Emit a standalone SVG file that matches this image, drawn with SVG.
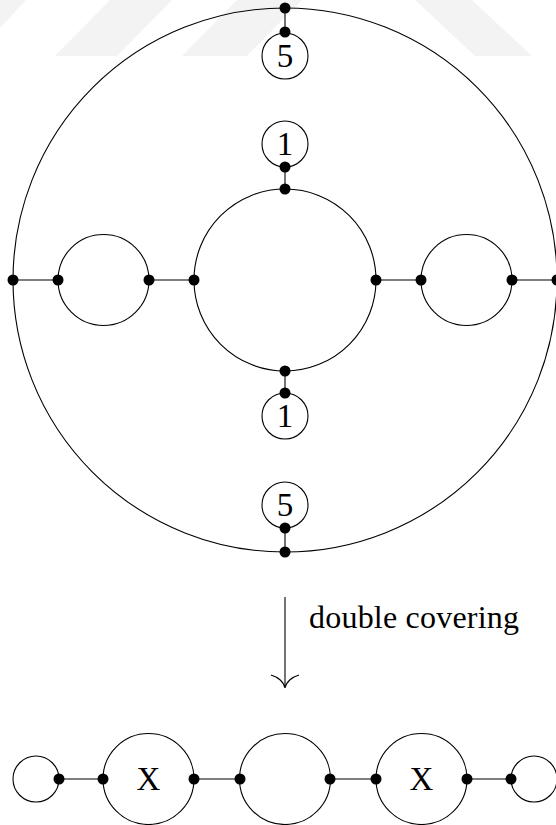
<svg xmlns="http://www.w3.org/2000/svg" width="556" height="825" viewBox="0 0 556 825">
<style>
.c{fill:none;stroke:#000;stroke-width:1.1}
.e{stroke:#000;stroke-width:1.1;fill:none}
.d{fill:#000}
.t{font-family:"Liberation Serif","DejaVu Serif",serif;font-size:33px;fill:#000}
.w{fill:#f3f3f3}
</style>
<rect width="556" height="825" fill="#fff"/>
<g id="watermark">
<polygon class="w" points="0,0 26,0 0,28"/>
<polygon class="w" points="110,0 172,0 117,56 55,56"/>
<polygon class="w" points="237,0 302,0 247,56 182,56"/>
<polygon class="w" points="415,0 472,0 532,56 475,56"/>
</g>
<g id="connectors">
<line class="e" x1="285" y1="8" x2="285" y2="32"/>
<line class="e" x1="285" y1="167" x2="285" y2="189"/>
<line class="e" x1="285" y1="371" x2="285" y2="393"/>
<line class="e" x1="285" y1="528" x2="285" y2="552"/>
<line class="e" x1="13" y1="280" x2="58" y2="280"/>
<line class="e" x1="149" y1="280" x2="194" y2="280"/>
<line class="e" x1="376" y1="280" x2="421" y2="280"/>
<line class="e" x1="512" y1="280" x2="557" y2="280"/>
<line class="e" x1="59" y1="779" x2="103" y2="779"/>
<line class="e" x1="194" y1="779" x2="240" y2="779"/>
<line class="e" x1="330" y1="779" x2="376" y2="779"/>
<line class="e" x1="467" y1="779" x2="512" y2="779"/>
<line class="e" x1="285" y1="597" x2="285" y2="687"/>
<path class="e" d="M271,675 C278,677 284,682 285,688 C286,682 292,677 299,675"/>
</g>
<g id="outer"><circle class="c" cx="285" cy="280" r="272"/></g>
<g id="center"><circle class="c" cx="285" cy="280" r="91"/></g>
<g id="left"><circle class="c" cx="103.5" cy="280" r="45.5"/></g>
<g id="right"><circle class="c" cx="466.5" cy="280" r="45.5"/></g>
<g id="top5"><circle class="c" cx="285" cy="56" r="23"/><text class="t" x="285" y="67" text-anchor="middle">5</text></g>
<g id="top1"><circle class="c" cx="285" cy="144" r="23"/><text class="t" x="285" y="155" text-anchor="middle">1</text></g>
<g id="bot1"><circle class="c" cx="285" cy="416" r="23"/><text class="t" x="285" y="427" text-anchor="middle">1</text></g>
<g id="bot5"><circle class="c" cx="285" cy="505" r="23"/><text class="t" x="285" y="516" text-anchor="middle">5</text></g>
<g id="label"><text class="t" x="309" y="628" style="font-size:32px" textLength="210" lengthAdjust="spacing">double covering</text></g>
<g id="b1"><circle class="c" cx="36" cy="779" r="23"/></g>
<g id="b2"><circle class="c" cx="148.5" cy="779" r="45.5"/><text class="t" x="148.5" y="790" text-anchor="middle">X</text></g>
<g id="b3"><circle class="c" cx="285" cy="779" r="45.5"/></g>
<g id="b4"><circle class="c" cx="421.5" cy="779" r="45.5"/><text class="t" x="421.5" y="790" text-anchor="middle">X</text></g>
<g id="b5"><circle class="c" cx="534" cy="779" r="23"/></g>
<g id="dots">
<circle class="d" cx="285" cy="8" r="5.5"/>
<circle class="d" cx="285" cy="32" r="5.5"/>
<circle class="d" cx="285" cy="167" r="5.5"/>
<circle class="d" cx="285" cy="189" r="5.5"/>
<circle class="d" cx="285" cy="371" r="5.5"/>
<circle class="d" cx="285" cy="393" r="5.5"/>
<circle class="d" cx="285" cy="528" r="5.5"/>
<circle class="d" cx="285" cy="552" r="5.5"/>
<circle class="d" cx="13" cy="280" r="5.5"/>
<circle class="d" cx="58" cy="280" r="5.5"/>
<circle class="d" cx="149" cy="280" r="5.5"/>
<circle class="d" cx="194" cy="280" r="5.5"/>
<circle class="d" cx="376" cy="280" r="5.5"/>
<circle class="d" cx="421" cy="280" r="5.5"/>
<circle class="d" cx="512" cy="280" r="5.5"/>
<circle class="d" cx="557" cy="280" r="5.5"/>
<circle class="d" cx="59" cy="779" r="5.5"/>
<circle class="d" cx="103" cy="779" r="5.5"/>
<circle class="d" cx="194" cy="779" r="5.5"/>
<circle class="d" cx="240" cy="779" r="5.5"/>
<circle class="d" cx="330" cy="779" r="5.5"/>
<circle class="d" cx="376" cy="779" r="5.5"/>
<circle class="d" cx="467" cy="779" r="5.5"/>
<circle class="d" cx="511" cy="779" r="5.5"/>
</g>
</svg>
